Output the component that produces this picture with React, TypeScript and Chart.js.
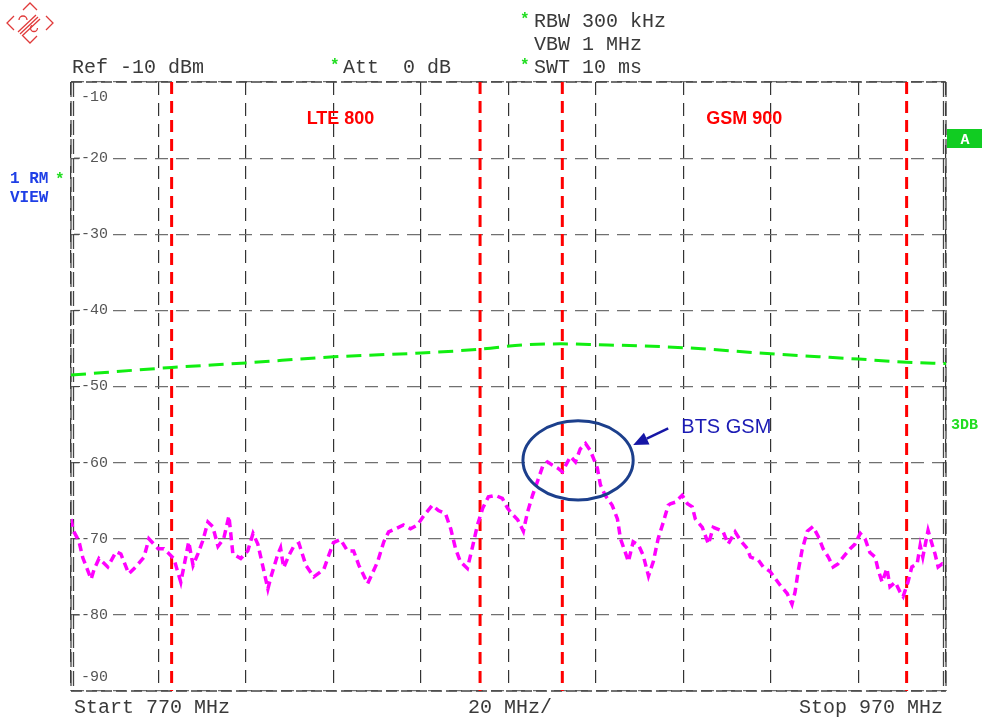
import React, { useEffect, useRef } from "react";
import { Chart, registerables } from "chart.js";

Chart.register(...registerables);

// ---------- data ----------
const xMin = 770;
const xMax = 970;
const yMin = -90;
const yMax = -10;
const yTicks = [-10, -20, -30, -40, -50, -60, -70, -80, -90];

const traceFreq = [
  770.0, 770.5, 771.8, 772.7, 774.6, 775.3, 776.4, 778.4, 780.3, 781.4, 783.2, 784.8, 786.7, 787.8,
  789.9, 791.2, 793.5, 795.1, 796.3, 796.9, 797.9, 799.0, 800.1, 801.3, 802.4, 803.6, 804.9, 806.1,
  807.0, 808.8, 810.4, 811.6, 812.7, 813.8, 815.0, 815.7, 817.3, 817.9, 818.6, 819.8, 820.9, 822.1,
  823.7, 825.5, 827.8, 828.9, 830.0, 831.6, 833.2, 834.6, 835.8, 837.8, 840.1, 841.5, 842.6, 844.2,
  846.0, 847.6, 849.2, 850.6, 852.6, 854.0, 855.6, 856.8, 857.9, 859.0, 860.6, 861.8, 862.9, 864.1,
  865.4, 867.0, 868.6, 869.8, 870.9, 872.1, 873.4, 874.3, 875.5, 876.6, 877.8, 878.9, 880.0, 881.2,
  882.3, 883.5, 884.2, 885.3, 886.4, 887.6, 888.7, 890.3, 891.0, 892.1, 893.7, 894.9, 895.6, 896.7,
  897.4, 898.5, 899.7, 900.8, 902.0, 903.1, 904.2, 905.4, 906.5, 907.0, 908.1, 909.7, 910.9, 912.0,
  912.7, 914.3, 915.7, 916.8, 919.0, 920.2, 921.8, 923.0, 924.6, 925.3, 927.1, 928.2, 929.8, 932.1,
  933.7, 934.8, 935.5, 936.2, 937.1, 938.3, 939.6, 940.8, 941.9, 943.1, 944.2, 945.3, 946.5, 948.1,
  949.2, 950.4, 951.5, 952.6, 953.8, 954.5, 955.4, 956.5, 957.2, 958.4, 959.5, 960.2, 961.3, 962.2,
  963.4, 964.1, 964.7, 965.9, 966.8, 967.5, 968.2, 969.1, 970.0,
];
const traceLevel = [
  -67.4, -68.9, -70.3, -72.5, -75.3, -74.0, -72.6, -73.7, -71.7, -72.0, -74.6, -73.7, -72.4, -70.0,
  -71.3, -71.3, -72.6, -75.7, -72.2, -70.4, -73.5, -72.0, -70.3, -67.8, -68.4, -71.0, -70.0, -67.0,
  -72.0, -72.6, -71.6, -69.3, -70.7, -73.5, -76.6, -75.0, -72.0, -71.2, -73.8, -72.2, -71.0, -70.6,
  -73.5, -75.0, -74.0, -72.2, -70.5, -70.1, -71.6, -71.6, -73.5, -75.9, -73.0, -70.4, -69.1, -68.7,
  -68.2, -68.7, -68.2, -67.0, -65.6, -66.3, -66.7, -68.7, -71.3, -73.0, -73.9, -71.0, -68.2, -66.0,
  -64.5, -64.3, -64.7, -66.0, -66.8, -67.5, -69.0, -66.6, -64.3, -62.5, -60.5, -59.9, -60.3, -60.7,
  -61.2, -59.9, -59.2, -59.9, -58.2, -57.5, -58.4, -60.7, -62.9, -64.3, -65.6, -67.4, -70.0, -71.8,
  -73.0, -70.4, -70.8, -72.2, -74.9, -73.0, -70.0, -67.8, -65.6, -65.4, -65.2, -64.3, -65.4, -65.8,
  -67.4, -68.5, -70.7, -68.5, -69.0, -70.7, -69.1, -70.2, -71.3, -72.4, -72.8, -73.7, -74.3, -76.1,
  -77.2, -78.6, -77.0, -74.3, -71.5, -69.0, -68.4, -69.7, -71.3, -72.4, -73.7, -73.3, -72.4, -71.3,
  -70.7, -69.3, -70.0, -71.8, -72.4, -74.1, -75.7, -73.9, -76.3, -75.7, -77.0, -77.6, -75.7, -73.7,
  -73.3, -70.9, -72.4, -68.9, -70.7, -72.0, -73.7, -73.3, -73.5,
];

const limitFreq = [770, 793, 810, 830, 850, 863.5, 874, 882, 890, 910, 930, 950, 961, 970];
const limitLevel = [-48.5, -47.5, -46.9, -46.1, -45.6, -45.1, -44.5, -44.4, -44.5, -44.9, -45.7, -46.4, -46.8, -47.0];

const bandEdges = [793.0, 863.5, 882.3, 961.0];
const bandNames = ["LTE 800", "GSM 900"];
const bandLabelFreq = [831.6, 923.9];
const bandLabelLevel = -14.8;

// ellipse annotation (BTS GSM)
const ellipseCenter = { f: 885.9, l: -59.7 };
const ellipseHalf = { f: 12.6, l: 5.2 };
const arrowTail = { f: 906.5, l: -55.5 };
const arrowHead = { f: 898.5, l: -57.7 };
const btsText = { f: 909.5, l: -56.1, text: "BTS GSM" };

const MONO = '"Liberation Mono", "DejaVu Sans Mono", monospace';
const SANS = '"Liberation Sans", Arial, sans-serif';
const GREEN = "#22dd22";

const overlayPlugin = {
  id: "overlay",
  beforeDatasetsDraw(chart: any) {
    const ctx = chart.ctx as CanvasRenderingContext2D;
    const { left, right, top, bottom } = chart.chartArea;
    const ys = chart.scales.y;
    ctx.save();
    // border
    ctx.strokeStyle = "#444";
    ctx.lineWidth = 1.3;
    ctx.setLineDash([11, 4]);
    const seg = (x1: number, y1: number, x2: number, y2: number) => {
      ctx.beginPath();
      ctx.moveTo(x1, y1);
      ctx.lineTo(x2, y2);
      ctx.stroke();
    };
    seg(left, top, right, top);
    seg(left, bottom, right, bottom);
    ctx.setLineDash([15, 4]);
    seg(left, top, left, bottom);
    seg(left + 2.5, top, left + 2.5, bottom);
    seg(right, top, right, bottom);
    seg(right - 2.5, top, right - 2.5, bottom);
    ctx.setLineDash([]);
    // y labels
    ctx.font = `15px ${MONO}`;
    ctx.textBaseline = "middle";
    ctx.textAlign = "left";
    yTicks.forEach((v) => {
      let y = ys.getPixelForValue(v);
      if (v === yMax) y += 15;
      else if (v === yMin) y -= 14;
      const label = String(v);
      const w = ctx.measureText(label).width;
      ctx.fillStyle = "#ffffff";
      ctx.fillRect(left + 8, y - 7, w + 6, 14);
      ctx.fillStyle = "#555";
      ctx.fillText(label, left + 10, y);
      ctx.strokeStyle = "#444";
      ctx.lineWidth = 1;
      if (v !== yMax && v !== yMin) seg(left + 3, ys.getPixelForValue(v), left + 9, ys.getPixelForValue(v));
    });
    ctx.restore();
  },
  afterDatasetsDraw(chart: any) {
    const ctx = chart.ctx as CanvasRenderingContext2D;
    const xs = chart.scales.x;
    const ys = chart.scales.y;
    ctx.save();
    // band labels
    ctx.font = `bold 18px ${SANS}`;
    ctx.fillStyle = "#ff0000";
    ctx.textAlign = "center";
    ctx.textBaseline = "middle";
    bandNames.forEach((n, i) => {
      ctx.fillText(n, xs.getPixelForValue(bandLabelFreq[i]), ys.getPixelForValue(bandLabelLevel));
    });
    // ellipse
    const cx = xs.getPixelForValue(ellipseCenter.f);
    const cy = ys.getPixelForValue(ellipseCenter.l);
    const rx = xs.getPixelForValue(ellipseCenter.f + ellipseHalf.f) - cx;
    const ry = cy - ys.getPixelForValue(ellipseCenter.l + ellipseHalf.l);
    ctx.strokeStyle = "#1c3f8c";
    ctx.lineWidth = 3;
    ctx.beginPath();
    ctx.ellipse(cx, cy, rx, ry, 0, 0, Math.PI * 2);
    ctx.stroke();
    // arrow
    const tx = xs.getPixelForValue(arrowTail.f);
    const ty = ys.getPixelForValue(arrowTail.l);
    const hx = xs.getPixelForValue(arrowHead.f);
    const hy = ys.getPixelForValue(arrowHead.l);
    const ang = Math.atan2(hy - ty, hx - tx);
    const hl = 15;
    const hw = 6.5;
    const bx = hx - hl * Math.cos(ang);
    const by = hy - hl * Math.sin(ang);
    ctx.strokeStyle = "#1616a6";
    ctx.fillStyle = "#1616a6";
    ctx.lineWidth = 2.5;
    ctx.beginPath();
    ctx.moveTo(tx, ty);
    ctx.lineTo(bx, by);
    ctx.stroke();
    ctx.beginPath();
    ctx.moveTo(hx, hy);
    ctx.lineTo(bx + hw * Math.sin(ang), by - hw * Math.cos(ang));
    ctx.lineTo(bx - hw * Math.sin(ang), by + hw * Math.cos(ang));
    ctx.closePath();
    ctx.fill();
    // BTS text
    ctx.font = `20px ${SANS}`;
    ctx.fillStyle = "#1a1ab4";
    ctx.textAlign = "left";
    ctx.textBaseline = "alphabetic";
    ctx.fillText(btsText.text, xs.getPixelForValue(btsText.f), ys.getPixelForValue(btsText.l));
    ctx.restore();
  },
  afterDraw(chart: any) {
    const ctx = chart.ctx as CanvasRenderingContext2D;
    const { right } = chart.chartArea;
    ctx.save();
    ctx.textBaseline = "alphabetic";
    ctx.textAlign = "left";
    ctx.font = `20px ${MONO}`;
    ctx.fillStyle = "#3a3a3a";
    ctx.fillText("Ref -10 dBm", 72, 73);
    ctx.fillText("Att  0 dB", 343, 73);
    ctx.fillText("RBW 300 kHz", 534, 27);
    ctx.fillText("VBW 1 MHz", 534, 50);
    ctx.fillText("SWT 10 ms", 534, 73);
    ctx.fillText("Start 770 MHz", 74, 713);
    ctx.fillText("20 MHz/", 468, 713);
    ctx.textAlign = "right";
    ctx.fillText("Stop 970 MHz", 943, 713);
    ctx.textAlign = "left";
    ctx.fillStyle = GREEN;
    ctx.font = `bold 16px ${MONO}`;
    ctx.fillText("*", 330, 70);
    ctx.fillText("*", 520, 24);
    ctx.fillText("*", 520, 70);
    ctx.fillText("*", 55, 184);
    // left labels
    ctx.fillStyle = "#1f3fe6";
    ctx.font = `bold 16px ${MONO}`;
    ctx.fillText("1 RM", 10, 183);
    ctx.fillText("VIEW", 10, 202);
    // A box
    ctx.fillStyle = "#11cc22";
    ctx.fillRect(right + 1, 129, 35, 19);
    ctx.fillStyle = "#ffffff";
    ctx.font = `bold 15px ${MONO}`;
    ctx.textAlign = "center";
    ctx.fillText("A", right + 19, 144);
    // 3DB
    ctx.textAlign = "left";
    ctx.fillStyle = GREEN;
    ctx.font = `bold 15px ${MONO}`;
    ctx.fillText("3DB", 951, 429);
    // logo
    ctx.strokeStyle = "#e03a3a";
    ctx.lineWidth = 1.3;
    const c = { x: 30, y: 23 };
    const poly = (pts: number[][]) => {
      ctx.beginPath();
      ctx.moveTo(pts[0][0], pts[0][1]);
      for (let i = 1; i < pts.length; i++) ctx.lineTo(pts[i][0], pts[i][1]);
      ctx.stroke();
    };
    poly([[c.x - 7, c.y - 13], [c.x, c.y - 20], [c.x + 7, c.y - 13]]);
    poly([[c.x - 16, c.y - 7], [c.x - 23, c.y], [c.x - 16, c.y + 7]]);
    poly([[c.x + 16, c.y - 7], [c.x + 23, c.y], [c.x + 16, c.y + 7]]);
    poly([[c.x - 7, c.y + 13], [c.x, c.y + 20], [c.x + 7, c.y + 13]]);
    poly([[c.x - 12, c.y + 9], [c.x + 6, c.y - 8]]);
    poly([[c.x - 10, c.y + 11], [c.x + 8, c.y - 6]]);
    poly([[c.x - 8, c.y + 13], [c.x + 10, c.y - 4]]);
    ctx.beginPath();
    ctx.arc(c.x - 7, c.y - 3, 4, Math.PI, Math.PI * 2);
    ctx.stroke();
    ctx.beginPath();
    ctx.arc(c.x + 4, c.y + 5, 3.5, 0, Math.PI * 1.3);
    ctx.stroke();
    ctx.restore();
  },
};

export default function App() {
  const ref = useRef<HTMLCanvasElement | null>(null);
  useEffect(() => {
    if (!ref.current) return;
    const datasets: any[] = [
      {
        label: "trace",
        data: traceFreq.map((f, i) => ({ x: f, y: traceLevel[i] })),
        borderColor: "#ff00ff",
        borderWidth: 3.5,
        borderDash: [8, 5],
        pointRadius: 0,
        tension: 0,
      },
      {
        label: "limit",
        data: limitFreq.map((f, i) => ({ x: f, y: limitLevel[i] })),
        borderColor: "#11ee11",
        borderWidth: 3,
        borderDash: [15, 8],
        pointRadius: 0,
        cubicInterpolationMode: "monotone",
      },
      ...bandEdges.map((f) => ({
        label: "edge" + f,
        data: [
          { x: f, y: yMax },
          { x: f, y: yMin },
        ],
        borderColor: "#ff0000",
        borderWidth: 3,
        borderDash: [12, 7],
        pointRadius: 0,
      })),
    ];
    const chart = new Chart(ref.current, {
      type: "line",
      data: { datasets },
      options: {
        animation: false,
        responsive: false,
        devicePixelRatio: 1,
        layout: { padding: { left: 71, top: 82, right: 39, bottom: 29 } },
        plugins: { legend: { display: false }, tooltip: { enabled: false } },
        scales: {
          x: {
            type: "linear",
            min: xMin,
            max: xMax,
            ticks: { display: false, stepSize: 20 },
            grid: { color: "#333", lineWidth: 1.2, drawTicks: false },
            border: { display: false, dash: [13, 8] },
          },
          y: {
            type: "linear",
            min: yMin,
            max: yMax,
            ticks: { display: false, stepSize: 10 },
            grid: { color: "#707070", lineWidth: 1.2, drawTicks: false },
            border: { display: false, dash: [13, 8] },
          },
        },
      } as any,
      plugins: [overlayPlugin],
    });
    return () => chart.destroy();
  }, []);
  return (
    <div style={{ position: "absolute", left: 0, top: 0, width: 985, height: 720, background: "#fff" }}>
      <canvas ref={ref} width={985} height={720} style={{ display: "block" }} />
    </div>
  );
}
